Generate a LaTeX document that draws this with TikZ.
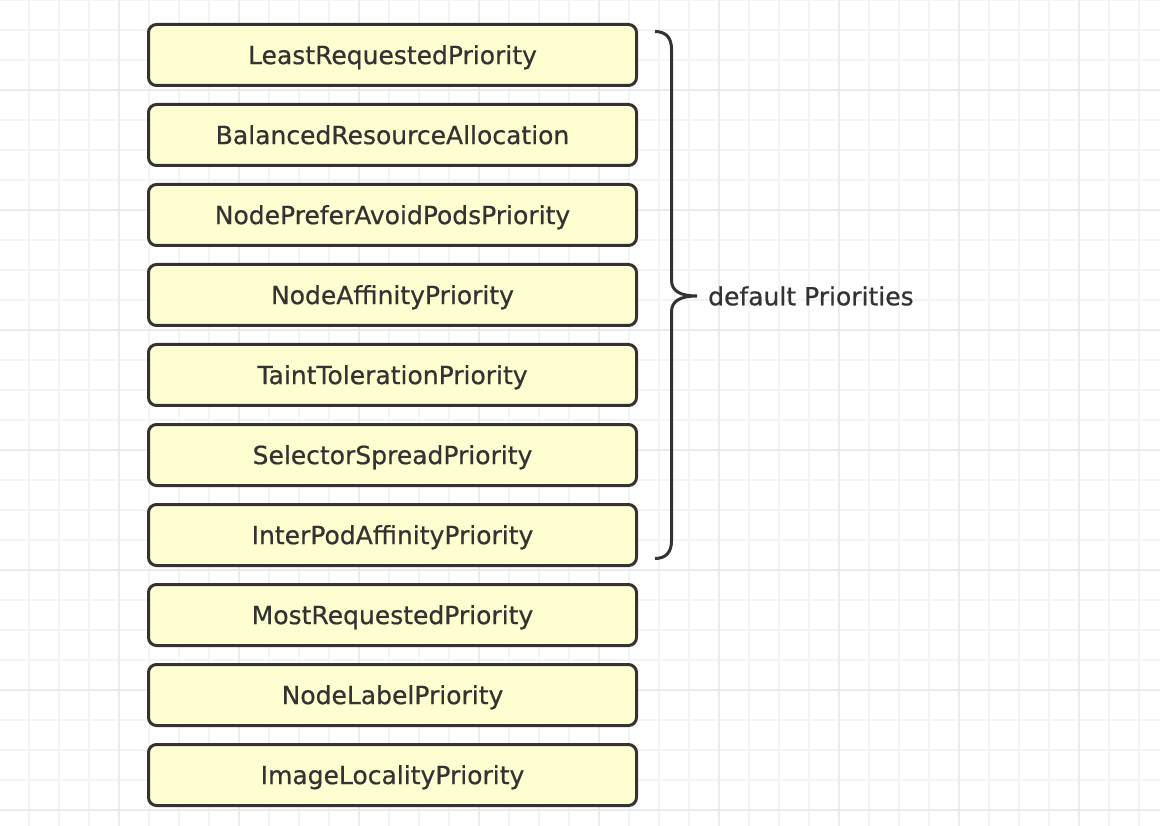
\documentclass[tikz,border=0pt]{standalone}
\usepackage{fontspec}
\setmainfont{DejaVu Sans}[FakeBold=0.6]
\usepackage{tikz}
\usepackage{xcolor}
\usetikzlibrary{positioning}
\definecolor{ink}{HTML}{333333}
\definecolor{boxfill}{HTML}{FFFED0}
\definecolor{gridminor}{HTML}{F4F4F4}
\definecolor{gridmajor}{HTML}{EBEBEB}

\begin{document}
\begin{tikzpicture}[
x=1pt,y=1pt,
prio/.style={draw=ink,fill=boxfill,line width=3pt,outer sep=0pt,rounded corners=8pt,minimum width=488pt,minimum height=61pt,inner sep=0pt,text height=23pt,text depth=4.8pt,text=ink,font=\fontsize{25}{29}\selectfont},
brace/.style={draw=ink,line width=3pt},
gap/.style={below=19pt of #1}
]
% background grid
\useasboundingbox (0,0) rectangle (1160,-826);
\fill[white] (0,0) rectangle (1160,-826);
\foreach \gx in {29,59,...,1159} \draw[gridminor,line width=1.5pt] (\gx,0) -- (\gx,-826);
\foreach \gy in {0,30,...,826} \draw[gridminor,line width=1.5pt] (0,-\gy) -- (1160,-\gy);
\foreach \gx in {119,239,...,1159} \draw[gridmajor,line width=2pt] (\gx,0) -- (\gx,-826);
\foreach \gy in {90,210,...,826} \draw[gridmajor,line width=2pt] (0,-\gy) -- (1160,-\gy);
% priority boxes
\node[prio] (least) at (392.5,-55) {LeastRequestedPriority};
\node[prio,gap=least] (balanced) {BalancedResourceAllocation};
\node[prio,gap=balanced] (avoid) {NodePreferAvoidPodsPriority};
\node[prio,gap=avoid] (affinity) {NodeAffinityPriority};
\node[prio,gap=affinity] (taint) {TaintTolerationPriority};
\node[prio,gap=taint] (spread) {SelectorSpreadPriority};
\node[prio,gap=spread] (interpod) {InterPodAffinityPriority};
\node[prio,gap=interpod] (most) {MostRequestedPriority};
\node[prio,gap=most] (label) {NodeLabelPriority};
\node[prio,gap=label] (image) {ImageLocalityPriority};
% brace over the defaults
\coordinate (bt) at (655,-31.5);
\coordinate (bb) at (655,-558.5);
\coordinate (tip) at (697,-296);
\draw[brace] (bt) .. controls (666,-31.5) and (671.5,-38) .. (671.5,-49)
  -- (671.5,-280) .. controls (671.5,-291) and (680,-296) .. (tip)
  .. controls (680,-296) and (671.5,-301) .. (671.5,-312)
  -- (671.5,-541) .. controls (671.5,-552) and (666,-558.5) .. (bb);
\node[anchor=west,inner sep=0pt,text=ink,font=\fontsize{25}{29}\selectfont,right=11pt of tip] (defaults) {default Priorities};
\end{tikzpicture}
\end{document}
